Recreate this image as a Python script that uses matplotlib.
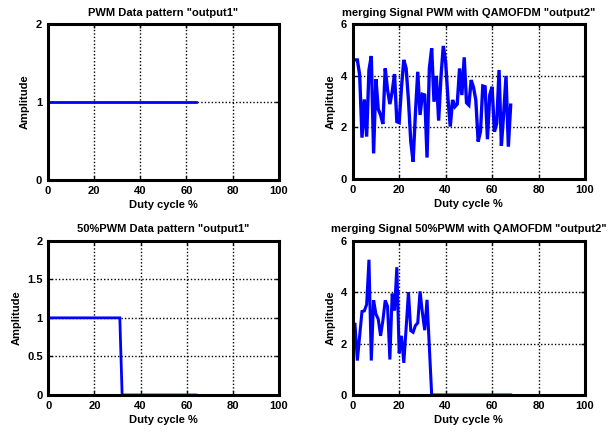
import numpy as np
import matplotlib
matplotlib.use("Agg")
import matplotlib.pyplot as plt

plt.rcParams['font.family'] = ['Liberation Sans', 'DejaVu Sans']
plt.rcParams['font.weight'] = 'bold'

# PWM data pattern, duty-cycle axis samples
pwm_x = list(range(0, 65))
pwm_full = [1] * 65
pwm_half = [1] * 32 + [0] * 33

# Merged PWM + QAM-OFDM signal samples
sig_x = list(range(1, 69))
sig_full = [4.61, 4.61, 4.03, 1.60, 3.08, 1.64, 4.22, 4.76, 0.99, 3.87,
            2.70, 2.48, 2.13, 4.28, 3.45, 2.90, 3.38, 4.06, 2.22, 2.18,
            3.55, 4.61, 4.28, 3.06, 1.45, 0.67, 2.54, 4.15, 2.48, 3.28,
            3.25, 0.83, 4.28, 5.06, 2.99, 3.99, 2.26, 3.96, 5.15, 4.54,
            3.12, 2.03, 3.06, 2.80, 2.90, 4.28, 3.25, 4.71, 2.95, 2.86,
            3.83, 3.55, 3.06, 1.45, 1.83, 3.60, 3.57, 1.54, 3.25, 3.57,
            1.83, 2.15, 4.22, 1.28, 2.54, 3.99, 1.25, 2.86]
sig_half = [2.75, 1.34, 2.30, 3.25, 3.27, 3.52, 5.26, 1.34, 3.68, 3.15,
            2.95, 2.30, 2.90, 3.68, 3.45, 1.38, 3.94, 3.28, 4.97, 1.62,
            2.30, 1.25, 2.60, 4.00, 2.50, 2.44, 2.70, 2.80, 4.03, 3.20,
            2.52, 3.70, 1.85] + [0.0] * 35

titles = ['PWM Data pattern "output1"',
          'merging Signal PWM with QAMOFDM "output2"',
          '50%PWM Data pattern "output1"',
          'merging Signal 50%PWM with QAMOFDM "output2"']

W, H = 612, 432
fig = plt.figure(figsize=(W / 100, H / 100), dpi=100)


def box(x0, x1, y0, y1):
    return [x0 / W, (H - y1) / H, (x1 - x0) / W, (y1 - y0) / H]


axes = [fig.add_axes(box(47.5, 279, 24, 180)),
        fig.add_axes(box(352.7, 585, 24, 179)),
        fig.add_axes(box(48.3, 279, 240.7, 395)),
        fig.add_axes(box(352.7, 585, 240.7, 395))]

series = [(pwm_x, pwm_full), (sig_x, sig_full), (pwm_x, pwm_half), (sig_x, sig_half)]
yticks = [[0, 1, 2], [0, 2, 4, 6], [0, 0.5, 1, 1.5, 2], [0, 2, 4, 6]]
ylims = [(0, 2), (0, 6), (0, 2), (0, 6)]
widths = [2.0, 2.4, 2.0, 2.2]

for ax, (xs, ys), t, yt, yl, lw in zip(axes, series, titles, yticks, ylims, widths):
    ax.plot(xs, ys, color='#0000ff', lw=lw, solid_joinstyle='miter')
    ax.set_xlim(0, 100)
    ax.set_ylim(*yl)
    ax.set_xticks([0, 20, 40, 60, 80, 100])
    ax.set_yticks(yt)
    ax.set_yticklabels([f'{v:g}' for v in yt])
    ax.grid(True, color='black', linestyle=(0, (1, 1.5)), lw=1.0)
    ax.set_axisbelow(True)
    for s in ax.spines.values():
        s.set_linewidth(2.2)
    ax.tick_params(direction='in', length=3, width=1, labelsize=8, pad=4,
                   top=True, right=True)
    for lab in ax.get_xticklabels() + ax.get_yticklabels():
        lab.set_fontweight('bold')
    ax.set_title(t, fontsize=8, fontweight='bold', pad=6)
    ax.set_xlabel('Duty cycle %', fontsize=8, fontweight='bold', labelpad=3)
    ax.set_ylabel('Amplitude', fontsize=8, fontweight='bold', labelpad=4)

fig.savefig('out.png', dpi=100)
